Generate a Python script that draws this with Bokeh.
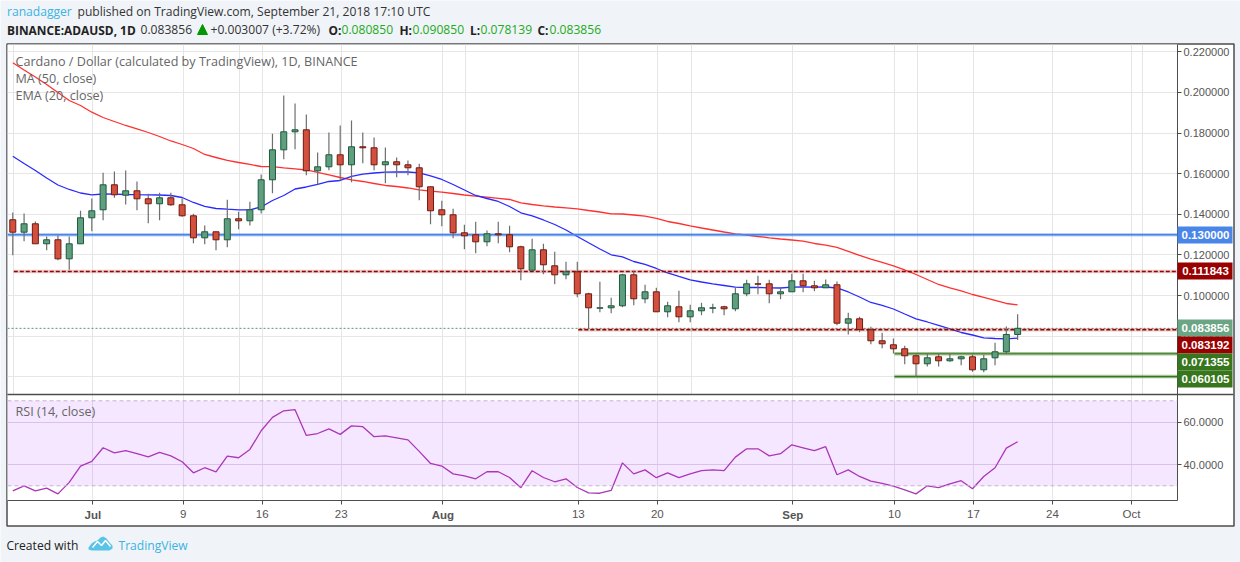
from bokeh.embed import file_html
from bokeh.resources import INLINE
from bokeh.layouts import column
from bokeh.plotting import figure
from bokeh.models import (FixedTicker, Grid, Label, NumeralTickFormatter, Range1d, Span)

# ---- data (Jun 24 .. Sep 21 2018, daily) ----
opens = [.13731,.13120,.13534,.12549,.12746,.11810,.12549,.13829,.14223,.15454,
         .14942,.15159,.14765,.14519,.14814,.14469,.13928,.12844,.13140,.12746,
         .13780,.13681,.14223,.15700,.17177,.18064,.18162,.16143,.16340,.16931,
         .16439,.17325,.17276,.16439,.16587,.16439,.16291,.15356,.14223,.13977,
         .13091,.12992,.12647,.13041,.12992,.12401,.11249,.12253,.11466,.11022,
         .11170,.10087,.09378,.09398,.09496,.11022,.09841,.10185,.09201,.09447,
         .08954,.09250,.09378,.09447,.09348,.10087,.10579,.10579,.10087,.10185,
         .10727,.10481,.10382,.10530,.08639,.08856,.08314,.07773,.07576,.07379,
         .07034,.06640,.06985,.06788,.06886,.06985,.06345,.06936,.07231,.080850]
highs = [.14090,.14041,.13647,.12908,.12958,.12908,.14174,.14779,.16045,.16109,
         .16158,.15617,.15011,.15060,.15060,.14779,.14026,.13450,.13140,.14715,
         .14125,.14617,.15961,.17965,.19851,.19457,.18916,.17045,.18029,.18374,
         .18620,.18029,.17783,.17291,.16798,.16651,.16488,.15356,.14666,.14272,
         .13484,.13632,.13204,.13632,.13435,.12450,.12795,.12549,.12155,.11663,
         .11663,.10136,.10678,.09890,.11072,.11219,.10530,.10382,.09693,.10235,
         .09545,.09644,.09595,.09496,.10382,.10776,.10973,.10776,.10382,.11072,
         .11072,.10727,.10791,.10693,.09151,.08954,.08462,.08167,.07886,.07526,
         .07098,.07133,.07133,.07133,.07034,.07098,.07083,.07674,.08477,.090850]
lows = [.11988,.12677,.12549,.12234,.11741,.11269,.12549,.13169,.13711,.14814,
        .14484,.14203,.13563,.13711,.14420,.13878,.12578,.12529,.12234,.12382,
        .13268,.13450,.14041,.15040,.16715,.17207,.15927,.15469,.16173,.15666,
        .15582,.16518,.16173,.15533,.15828,.15927,.14696,.13514,.13416,.12825,
        .12283,.12086,.12431,.12578,.12135,.10757,.11249,.11052,.10560,.10806,
        .09920,.08364,.09181,.09132,.09427,.09526,.09624,.09201,.08935,.08689,
        .08689,.09033,.09132,.09033,.09230,.09969,.10067,.09624,.09821,.10185,
        .10166,.10215,.10382,.08541,.08083,.08196,.07605,.07408,.07147,.06620,
        .06010,.06507,.06507,.06739,.06571,.06246,.06227,.06571,.07133,.078139]
closes = [.13120,.13534,.12549,.12746,.11810,.12549,.13829,.14174,.15454,.14962,
          .15159,.14765,.14519,.14814,.14469,.13928,.12844,.13140,.12746,.13780,
          .13681,.14223,.15700,.17177,.18064,.18162,.16143,.16340,.16931,.16439,
          .17325,.17276,.16439,.16587,.16439,.16291,.15356,.14174,.13977,.13091,
          .12943,.12647,.13041,.12992,.12401,.11318,.12253,.11515,.11022,.11170,
          .10087,.09398,.09398,.09496,.11022,.09841,.10185,.09201,.09496,.08954,
          .09250,.09398,.09398,.09348,.10087,.10579,.10560,.10087,.10185,.10727,
          .10481,.10382,.10530,.08639,.08856,.08329,.07773,.07625,.07379,.07034,
          .06640,.06936,.06788,.06886,.06985,.06345,.06886,.07231,.08085,.083856]
ma50 = [.21462,.21107,.20762,.20393,.19999,.19605,.19359,.19029,.18768,.18571,
        .18374,.18202,.18029,.17832,.17611,.17438,.17241,.16946,.16798,.16651,
        .16552,.16454,.16355,.16345,.16291,.16242,.16183,.16060,.15937,.15813,
        .15700,.15617,.15518,.15420,.15370,.15297,.15208,.15139,.15090,.15026,
        .14952,.14893,.14844,.14789,.14730,.14568,.14484,.14420,.14361,.14322,
        .14272,.14189,.14115,.14026,.14016,.13967,.13908,.13795,.13647,.13548,
        .13435,.13327,.13228,.13130,.13041,.12982,.12908,.12844,.12785,.12736,
        .12677,.12564,.12480,.12367,.12170,.11973,.11791,.11628,.11456,.11259,
        .11037,.10791,.10545,.10373,.10225,.10052,.09905,.09757,.09609,.09545]
ema20 = [.16862,.16503,.16158,.15789,.15444,.15223,.15050,.14962,.15001,.14991,
         .14976,.14966,.14962,.14952,.14927,.14829,.14583,.14386,.14287,.14253,
         .14223,.14223,.14361,.14681,.14927,.15247,.15346,.15469,.15617,.15666,
         .15863,.15976,.16035,.16075,.16094,.16084,.16045,.15888,.15715,.15469,
         .15198,.14927,.14779,.14632,.14386,.14075,.13918,.13721,.13499,.13228,
         .12908,.12598,.12293,.12007,.11909,.11677,.11530,.11333,.11111,.10939,
         .10776,.10668,.10579,.10496,.10412,.10397,.10397,.10382,.10373,.10412,
         .10422,.10412,.10422,.10373,.10176,.09929,.09659,.09511,.09338,.09092,
         .08856,.08698,.08526,.08354,.08181,.08058,.07920,.07886,.07871,.07901]
rsi = [27.6,30.0,27.6,28.9,26.2,31.6,39.3,41.5,47.9,45.5,
       46.5,45.1,43.6,45.7,44.1,41.3,36.1,38.5,36.6,44.0,
       43.2,47.1,55.9,62.2,65.3,65.8,53.7,54.6,56.8,54.2,
       58.2,57.8,53.1,53.5,52.6,51.6,46.2,40.5,39.3,35.6,
       34.7,33.3,36.6,36.6,33.9,29.1,37.1,33.9,31.9,33.3,
       29.2,26.7,26.5,27.8,40.8,35.6,37.5,33.8,36.1,33.8,
       35.6,37.1,37.5,37.1,43.5,47.4,47.4,44.1,45.1,49.3,
       47.9,46.5,48.4,35.2,37.5,34.4,32.2,31.1,29.8,28.1,
       26.2,30.0,29.1,30.9,32.4,28.6,34.4,38.5,47.7,50.7]

tick_days = [7, 15, 22, 29, 38, 50, 57, 69, 78, 85, 92, 99]
tick_labels = ["Jul", "9", "16", "23", "Aug", "13", "20", "Sep", "10", "17", "24", "Oct"]
bold_months = ["Jul", "Aug", "Sep"]
price_ticks = [0.06, 0.08, 0.10, 0.12, 0.14, 0.16, 0.18, 0.20, 0.22]
rsi_ticks = [40, 60]
rsi_levels = [30, 70]
blue_level = 0.13
red_levels = [(0, 0.111843), (50, 0.083192)]
green_levels = [(78, 0.071355), (78, 0.060105)]
last_close = 0.083856
box_labels = ["0.130000", "0.111843", "0.083856", "0.083192", "0.071355", "0.060105"]
box_colors = ["#4a86e8", "#990000", "#6ba583", "#990000", "#38761d", "#38761d"]

# ---- styling ----
PAGE = "#f0f3f7"
GRID = "#e6e6e6"
FRAME = "#4d4d4d"
UP, UP_LINE = "#5f9e7f", "#1d5a3c"
DOWN, DOWN_LINE = "#d4503e", "#6e1a10"
AXIS_FONT = "Liberation Sans"
TEXT_FONT = "Open Sans"
X0, X1 = -0.558, 103.07
PX_PER_DAY = 1170 / (X1 - X0)
xs = [i - 0.09 for i in range(len(closes))]
W, H = 1240, 562
TOP_H, BOT_H = 394, 168

def place(z):
    return {"position": "absolute", "left": "0px", "top": "0px", "z-index": str(z)}

def style_y(fig):
    fig.outline_line_color = None
    fig.background_fill_color = "white"
    fig.border_fill_color = None
    for ax in fig.yaxis:
        ax.axis_line_color = FRAME
        ax.major_tick_line_color = FRAME
        ax.major_tick_in = 0
        ax.major_tick_out = 4
        ax.minor_tick_line_color = None
        ax.major_label_text_font = AXIS_FONT
        ax.major_label_text_font_size = "11px"
        ax.major_label_text_color = "#555555"
        ax.major_label_standoff = 2

# ---- page background with the white chart card ----
back = figure(width=W, height=H, output_backend="svg", toolbar_location=None,
              x_range=Range1d(0, W), y_range=Range1d(H, 0), x_axis_location=None, y_axis_location=None,
              min_border=0, outline_line_color=None, background_fill_color=PAGE, border_fill_color=PAGE,
              styles=place(0))
back.grid.visible = False
back.quad(left=[6.5], right=[1233.5], top=[43.5], bottom=[525.5], fill_color="white",
          line_color=FRAME, line_width=1.5)

# ---- price panel ----
p = figure(width=W, height=TOP_H, output_backend="svg", toolbar_location=None,
           x_range=Range1d(X0, X1), y_range=Range1d(0.05128, 0.22362),
           x_axis_location=None, y_axis_location="right",
           min_border_left=7, min_border_right=63, min_border_top=44, min_border_bottom=0)
style_y(p)
p.yaxis.ticker = FixedTicker(ticks=price_ticks)
p.yaxis.formatter = NumeralTickFormatter(format="0.000000")
p.ygrid.ticker = FixedTicker(ticks=price_ticks)
p.ygrid.grid_line_color = GRID
p.add_layout(Grid(dimension=0, ticker=FixedTicker(ticks=tick_days), grid_line_color=GRID))

p.line(xs, ma50, line_color="#ff3030", line_width=1.3)
p.line(xs, ema20, line_color="#2a2aff", line_width=1.3)

p.segment([X0], [last_close], [X1], [last_close], line_color="#5f8f77", line_width=1, line_dash="2 2")
p.segment([X0], [blue_level], [X1], [blue_level], line_color="#4a86e8", line_width=3.5, line_alpha=0.4)
p.segment([X0], [blue_level], [X1], [blue_level], line_color="#4a86e8", line_width=1.5)
for start, lvl in red_levels:
    p.segment([start], [lvl], [X1], [lvl], line_color="#990000", line_width=3.5, line_alpha=0.2)
    p.segment([start], [lvl], [X1], [lvl], line_color="#990000", line_width=1.5, line_dash="4 2")
for start, lvl in green_levels:
    p.segment([start], [lvl], [X1], [lvl], line_color="#38761d", line_width=3.5, line_alpha=0.45)
    p.segment([start], [lvl], [X1], [lvl], line_color="#38761d", line_width=1.2)

p.segment(xs, lows, xs, highs, line_color="#6e6e6e", line_width=1.2)
body_bottom = [min(o, c) for o, c in zip(opens, closes)]
body_top = [max(o, c) for o, c in zip(opens, closes)]
fills = [UP if c >= o else DOWN for o, c in zip(opens, closes)]
lines = [UP_LINE if c >= o else DOWN_LINE for o, c in zip(opens, closes)]
p.vbar(x=xs, width=0.53, bottom=body_bottom, top=body_top, fill_color=fills,
       line_color=lines, line_width=1)

# ---- RSI panel ----
q = figure(width=W, height=BOT_H, output_backend="svg", toolbar_location=None,
           x_range=p.x_range, y_range=Range1d(23.08, 72.96),
           x_axis_location="below", y_axis_location="right",
           min_border_left=7, min_border_right=63, min_border_top=0, min_border_bottom=62)
style_y(q)
q.yaxis.ticker = FixedTicker(ticks=rsi_ticks)
q.yaxis.formatter = NumeralTickFormatter(format="0.0000")
q.ygrid.ticker = FixedTicker(ticks=rsi_ticks)
q.ygrid.grid_line_color = "#e3d5e8"
ax = q.xaxis[0]
ax.ticker = FixedTicker(ticks=tick_days)
ax.major_label_overrides = {d: ("" if s in bold_months else s) for d, s in zip(tick_days, tick_labels)}
ax.axis_line_color = FRAME
ax.major_tick_line_color = FRAME
ax.major_tick_in = 0
ax.major_tick_out = 4
ax.minor_tick_line_color = None
ax.major_label_text_font = AXIS_FONT
ax.major_label_text_font_size = "11.5px"
ax.major_label_text_color = "#555555"
ax.major_label_standoff = 3
q.xgrid.ticker = FixedTicker(ticks=tick_days)
q.xgrid.grid_line_color = GRID

q.quad(left=[X0], right=[X1], bottom=[rsi_levels[0]], top=[rsi_levels[1]],
       fill_color="#9915ff", fill_alpha=0.1, line_color=None)
for lvl in rsi_levels:
    q.add_layout(Span(location=lvl, dimension="width", line_color="#c4b4cc", line_dash="4 3", line_width=1))
q.line(xs, rsi, line_color="#ab36b8", line_width=1.3)

panels = column(p, q, spacing=0, styles=place(1))

# ---- everything that sits over the frames: texts, price boxes, logo ----
top = figure(width=W, height=H, output_backend="svg", toolbar_location=None,
             x_range=Range1d(0, W), y_range=Range1d(H, 0), x_axis_location=None, y_axis_location=None,
             min_border=0, outline_line_color=None, background_fill_color=None, border_fill_color=None,
             styles=place(2))
top.grid.visible = False
top.line([7, 1233], [394, 394], line_color=FRAME, line_width=1.3)

def txt(s, x, y, color="#333333", size="12.1px", style="normal", font=TEXT_FONT, align="left"):
    top.add_layout(Label(x=x, y=y, text=s, text_color=color, text_font_size=size,
                         text_font_style=style, text_font=font, text_align=align,
                         text_baseline="middle"))

# header
txt("ranadagger", 6.5, 11, color="#3bb3e4")
txt("published on TradingView.com, September 21, 2018 17:10 UTC", 77, 11)
txt("BINANCE:ADAUSD, 1D", 6.5, 29, style="bold", color="#222222", size="11.9px")
txt("0.083856", 140, 29)
top.patch([197, 207, 202], [34, 34, 24], fill_color="#009900", line_color="#009900")
txt("+0.003007 (+3.72%)", 210, 29)
for name, val, xa, xb in [("O:", "0.080850", 328, 341), ("H:", "0.090850", 399, 412),
                          ("L:", "0.078139", 469.5, 480), ("C:", "0.083856", 537, 549)]:
    txt(name, xa, 29, style="bold", color="#222222", size="11.9px")
    txt(val, xb, 29, color="#22ab22")

# panel legends
txt("Cardano / Dollar (calculated by TradingView), 1D, BINANCE", 15, 60.5, color="#666666", size="12.6px")
txt("MA (50, close)", 15, 77.5, color="#666666", size="12.6px")
txt("EMA (20, close)", 15, 94.5, color="#666666", size="12.6px")
txt("RSI (14, close)", 15, 411, color="#666666", size="12.6px")

# price boxes
for s, color, y0 in zip(box_labels, box_colors, [226, 262, 319, 336, 353, 370]):
    top.quad(left=[1177], right=[1232], top=[y0], bottom=[y0 + 17], fill_color=color, line_color=None)
    txt(s, 1205, y0 + 8.5, color="white", size="11.5px", style="bold", font=AXIS_FONT, align="center")

# bold month tick labels
for d, s in zip(tick_days, tick_labels):
    if s in bold_months:
        txt(s, 7 + (d - X0) * PX_PER_DAY, 514, color="#555555", size="11.5px", style="bold",
            font=AXIS_FONT, align="center")

# footer
txt("Created with", 6, 545, color="#222222")
txt("TradingView", 118, 545, color="#3bb3e4")
top.patch([88, 91, 94, 97, 100, 103, 106, 109, 112, 112, 109, 91, 88],
          [547, 543, 541, 540, 537, 536, 538, 542, 545, 548, 550, 550, 549],
          fill_color="#5ac4e8", line_color=None)
top.line([92, 97, 101, 105, 110], [547, 541, 545, 540, 546], line_color="white", line_width=1.5)

open("out.html", "w").write(file_html([back, panels, top], INLINE))
